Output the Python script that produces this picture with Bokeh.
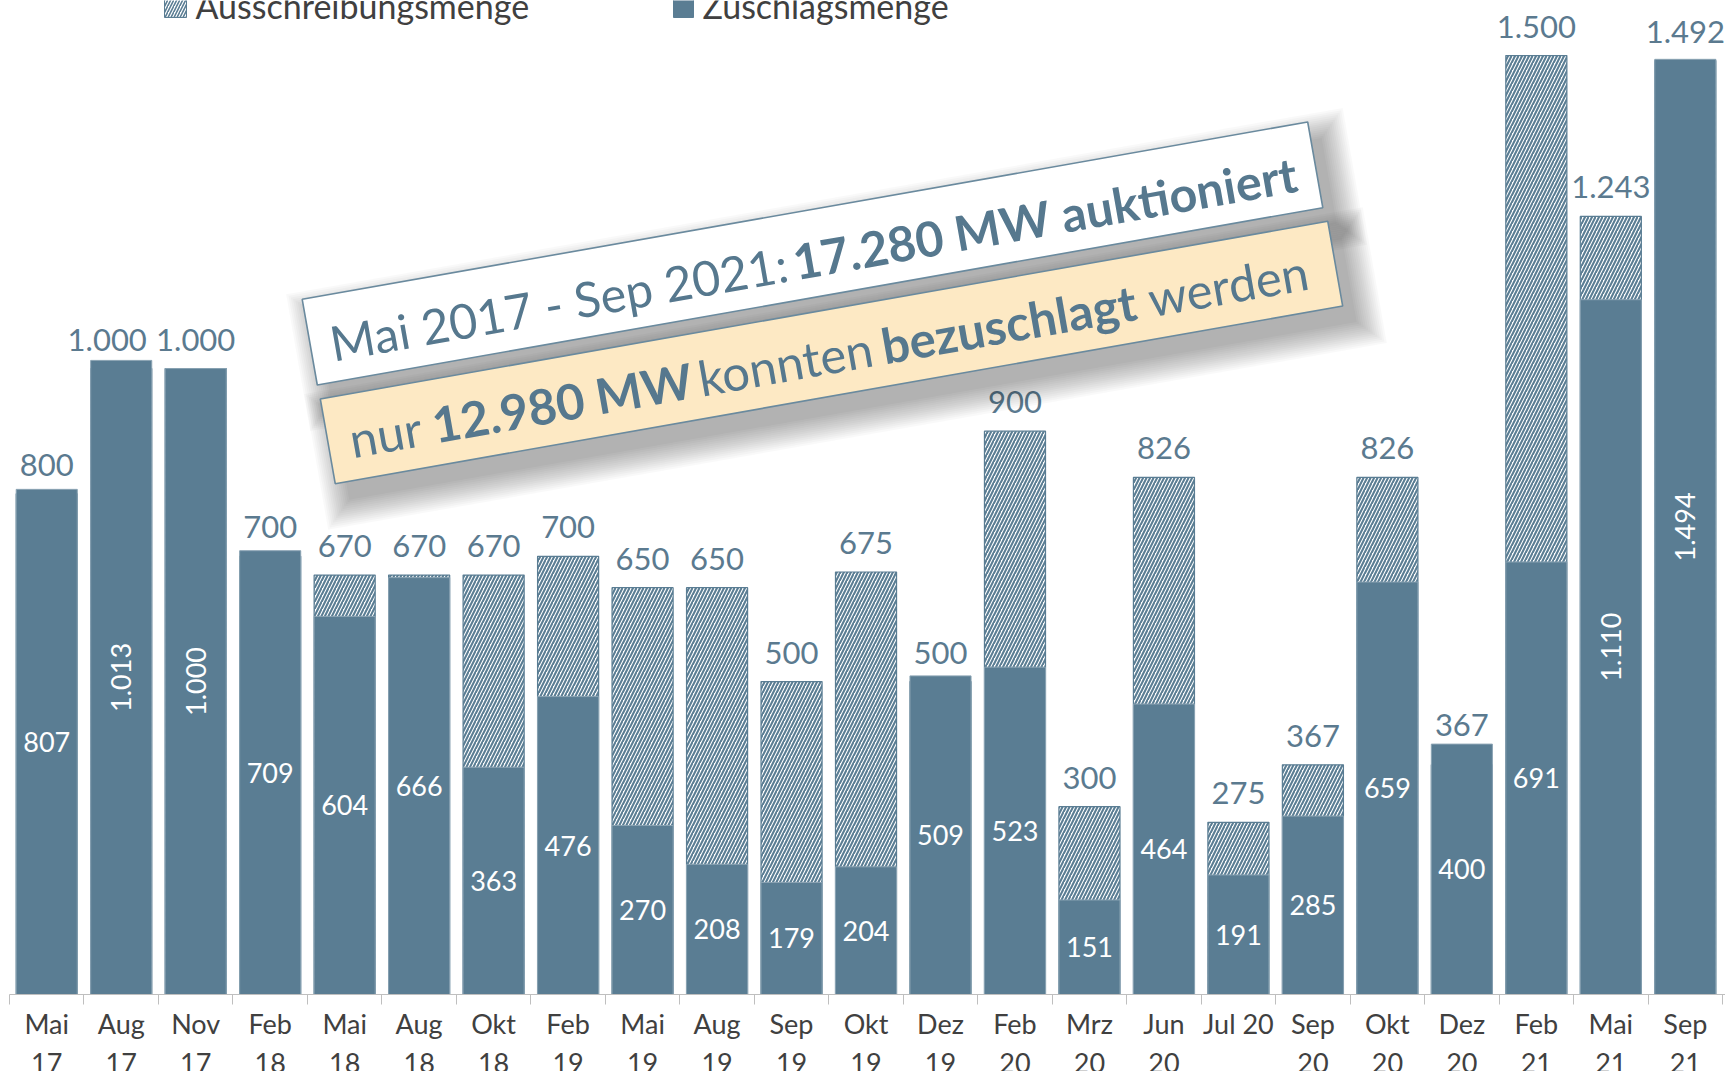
import math
from bokeh.plotting import figure
from bokeh.models import Range1d, FixedTicker
from bokeh.core.properties import value
from bokeh.embed import file_html
from bokeh.resources import INLINE

# ---------------- data ----------------
categories = ["Mai 17", "Aug 17", "Nov 17", "Feb 18", "Mai 18", "Aug 18", "Okt 18",
              "Feb 19", "Mai 19", "Aug 19", "Sep 19", "Okt 19", "Dez 19", "Feb 20",
              "Mrz 20", "Jun 20", "Jul 20", "Sep 20", "Okt 20", "Dez 20", "Feb 21",
              "Mai 21", "Sep 21"]
tick_labels = ["Mai\n17", "Aug\n17", "Nov\n17", "Feb\n18", "Mai\n18", "Aug\n18", "Okt\n18",
               "Feb\n19", "Mai\n19", "Aug\n19", "Sep\n19", "Okt\n19", "Dez\n19", "Feb\n20",
               "Mrz\n20", "Jun\n20", "Jul 20", "Sep\n20", "Okt\n20", "Dez\n20", "Feb\n21",
               "Mai\n21", "Sep\n21"]
ausschreibung = [800, 1000, 1000, 700, 670, 670, 670, 700, 650, 650, 500, 675, 500, 900,
                 300, 826, 275, 367, 826, 367, 1500, 1243, 1492]
zuschlag = [807, 1013, 1000, 709, 604, 666, 363, 476, 270, 208, 179, 204, 509, 523,
            151, 464, 191, 285, 659, 400, 691, 1110, 1494]
legend_labels = ["Ausschreibungsmenge", "Zuschlagsmenge"]
box1_segments = [("Mai 2017 - Sep 2021:", "normal"), ("17.280 MW auktioniert", "bold")]
box2_segments = [("nur", "normal"), ("12.980 MW", "bold"), ("konnten", "normal"),
                 ("bezuschlagt", "bold"), ("werden", "normal")]


def de(v):
    return f"{v:,}".replace(",", ".")


# ---------------- style ----------------
BAR = "#5a7d93"
LBL = "#5b7a8f"
AXT = "#404040"
TXT = "#56788e"
FONT = "Lato"
FL, FT = 9, 0            # page position of frame's top-left corner
FRAME_W, FRAME_H = 1716, 994
PITCH = 74.48            # px per category
Y_MAX = 1588
FIX = 12                 # baseline correction (px)
n = len(categories)
xs = list(range(n))
X_END = -0.5 + FRAME_W / PITCH


def X(px):
    return (px - FL) / PITCH - 0.5


def Y(py):
    return (FT + FRAME_H - py) / FRAME_H * Y_MAX


p = figure(frame_width=FRAME_W, frame_height=FRAME_H,
           x_range=Range1d(-0.5, X_END), y_range=Range1d(0, Y_MAX),
           output_backend="svg", toolbar_location=None, y_axis_location=None,
           min_border_left=FL, min_border_right=0, min_border_top=FT, min_border_bottom=0)
p.outline_line_color = None
p.grid.visible = False
p.background_fill_color = "white"

ax = p.xaxis[0]
ax.ticker = FixedTicker(ticks=xs, minor_ticks=[i - 0.5 for i in range(n + 1)])
ax.major_label_overrides = {i: lab for i, lab in enumerate(tick_labels)}
ax.major_tick_line_color = None
ax.major_tick_out = 0
ax.major_tick_in = 0
ax.minor_tick_in = 0
ax.minor_tick_out = 10
ax.minor_tick_line_color = "#bfbfbf"
ax.axis_line_color = "#bfbfbf"
ax.major_label_text_font = FONT
ax.major_label_text_font_size = "27px"
ax.major_label_text_line_height = 1.2
ax.major_label_text_color = AXT
ax.major_label_standoff = 2

# bars
p.vbar(x=xs, top=ausschreibung, width=0.82, fill_color="white", line_color=BAR, line_width=1.2,
       hatch_pattern="/", hatch_color=BAR, hatch_scale=7, hatch_weight=2.1)
p.vbar(x=xs, top=zuschlag, width=0.82, fill_color=BAR, line_color="#8aa3b3", line_width=1)

# value labels
CLEAR = 15  # MW clearance before a taller solid bar pushes the label up
top_y = [max(a, z - CLEAR) for a, z in zip(ausschreibung, zuschlag)]
top_txt = [de(a) for a in ausschreibung]
# nudge a wide label left when its right neighbour is wide and at the same height
nudge = [-14 if (i + 1 < n and len(top_txt[i]) > 3 and len(top_txt[i + 1]) > 3
                 and abs(top_y[i] - top_y[i + 1]) < 40) else 0 for i in range(n)]
p.text(x=xs, y=top_y, text=top_txt, text_align="center", x_offset=nudge,
       text_baseline="alphabetic", y_offset=-29, text_font=value(FONT),
       text_font_size=value("31px"), text_color=LBL)
p.text(x=xs, y=[z / 2 for z in zuschlag], text=[de(z) for z in zuschlag],
       angle=[math.pi / 2 if z >= 1000 else 0 for z in zuschlag],
       text_align="center", text_baseline="middle", text_font=value(FONT),
       text_font_size=value("27px"), text_color="white")

# legend (cropped at the top like the reference)
p.rect(x=[X(175)], y=[Y(6)], width=22, height=22, width_units="screen", height_units="screen",
       fill_color="white", line_color=BAR, hatch_pattern="/", hatch_color=BAR, hatch_scale=6,
       hatch_weight=1.6)
p.rect(x=[X(683)], y=[Y(6)], width=20, height=22, width_units="screen", height_units="screen",
       fill_color=BAR, line_color=BAR)
p.text(x=[X(195), X(702)], y=[Y(17 - FIX), Y(17 - FIX)], text=legend_labels, text_align="left",
       text_baseline="alphabetic", text_font=value(FONT), text_font_size=value("34px"),
       text_color=AXT)

# annotation boxes
TH = math.radians(10)
U = (math.cos(TH), -math.sin(TH))     # along the box (page coords)
V = (-math.sin(TH), -math.cos(TH))    # perpendicular, pointing up
boxes = [((812, 253), 1021, 87, "white"), ((831, 352), 1023, 86, "#fde9c4")]
for (cx, cy), w, h, col in boxes:
    for k in range(0, 28, 2):
        p.rect(x=[X(cx + 14)], y=[Y(cy + 16)], width=w + 2 * k, height=h + 2 * k,
               width_units="screen", height_units="screen", angle=TH,
               fill_color="black", fill_alpha=0.025, line_color=None)
for (cx, cy), w, h, col in boxes:
    p.rect(x=[X(cx)], y=[Y(cy)], width=w, height=h, width_units="screen",
           height_units="screen", angle=TH, fill_color=col, line_color="#6a8a9e",
           line_width=1.6)


def segline(box, segs, a, b, dists, size):
    (cx, cy), w, h, _ = box
    blx = cx - w / 2 * U[0] - h / 2 * V[0]
    bly = cy - w / 2 * U[1] - h / 2 * V[1]
    for (s, style), d in zip(segs, dists):
        px = blx + (a + d) * U[0] + (b + FIX) * V[0]
        py = bly + (a + d) * U[1] + (b + FIX) * V[1]
        p.text(x=[X(px)], y=[Y(py)], text=[s], angle=TH, text_align="left",
               text_baseline="alphabetic", text_font=value(FONT), text_font_style=style,
               text_font_size=value(size), text_color=TXT)


segline(boxes[0], box1_segments, 20, 27, [0, 470], "48.5px")
segline(boxes[1], box2_segments, 22, 29, [0, 84, 354, 540, 811], "49px")

open("out.html", "w").write(file_html(p, INLINE))
